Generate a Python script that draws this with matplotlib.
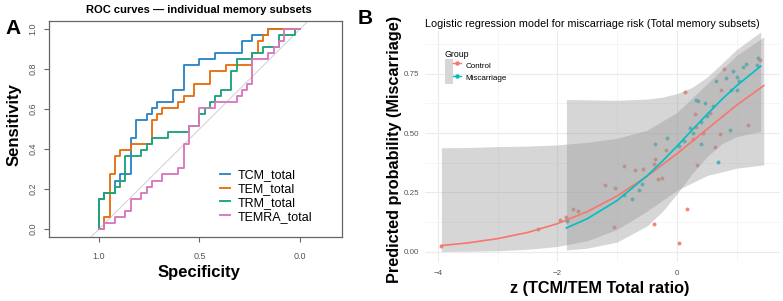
import matplotlib
matplotlib.use("Agg")
import matplotlib.pyplot as plt
import numpy as np
from matplotlib.patches import Patch
from matplotlib.lines import Line2D
from matplotlib.legend_handler import HandlerTuple

plt.rcParams['font.family'] = ['Liberation Sans', 'DejaVu Sans']

# ---------------- Panel A data: ROC vertices as counts ----------------
N_CTRL = 38   # specificity denominator
N_CASE = 33   # sensitivity denominator

tcm_k = [38, 38, 37, 37, 35, 35, 34, 34, 32, 32, 31, 31, 29, 29, 28, 28, 27, 27, 24, 24, 22, 22, 19, 19, 16, 16, 11, 11, 9, 9, 6, 6, 0]
tcm_j = [0, 5, 5, 6, 6, 8, 8, 9, 9, 15, 15, 18, 18, 19, 19, 20, 20, 21, 21, 23, 23, 27, 27, 28, 28, 29, 29, 31, 31, 32, 32, 33, 33]

tem_k = [38, 37, 37, 36, 36, 35, 35, 34, 34, 32, 32, 28, 28, 27, 27, 26, 26, 23, 23, 22, 22, 20, 20, 17, 17, 14, 14, 9, 9, 8, 8, 7, 7, 6, 6, 0]
tem_j = [0, 0, 2, 2, 9, 9, 12, 12, 13, 13, 14, 14, 18, 18, 19, 19, 20, 20, 21, 21, 22, 22, 24, 24, 26, 26, 27, 27, 29, 29, 31, 31, 32, 32, 33, 33]

trm_k = [38, 38, 37, 37, 35, 35, 34, 34, 33, 33, 30, 30, 29, 29, 28, 28, 25, 25, 21, 21, 19, 19, 18, 18, 17, 17, 16, 16, 15, 15, 13, 13, 12, 12, 9, 9, 7, 7, 4, 4, 1, 1, 0]
trm_j = [0, 5, 5, 6, 6, 7, 7, 8, 8, 12, 12, 13, 13, 14, 14, 15, 15, 16, 16, 17, 17, 19, 19, 20, 20, 21, 21, 22, 22, 23, 23, 26, 26, 28, 28, 29, 29, 30, 30, 32, 32, 33, 33]

temra_k = [38, 37, 37, 35, 35, 33, 33, 32, 32, 30, 30, 29, 29, 28, 28, 26, 26, 23, 23, 22, 22, 21, 21, 19, 19, 16, 16, 12, 12, 11, 11, 10, 10, 9, 9, 6, 6, 5, 5, 4, 4, 3, 3, 0]
temra_j = [0, 0, 1, 1, 2, 2, 3, 3, 5, 5, 6, 6, 7, 7, 8, 8, 9, 9, 10, 10, 14, 14, 17, 17, 20, 20, 21, 21, 22, 22, 23, 23, 24, 24, 28, 28, 29, 29, 30, 30, 31, 31, 33, 33]

roc_names = ["TCM_total", "TEM_total", "TRM_total", "TEMRA_total"]
roc_colors = ["#2F86C6", "#E5700F", "#1FA37C", "#D878BC"]
roc_ticks_x = [1.0, 0.5, 0.0]
roc_ticks_y = [0.0, 0.2, 0.4, 0.6, 0.8, 1.0]

# ---------------- Panel B data ----------------
ctrl_x = [-3.95, -2.33, -1.96, -1.86, -1.74, -1.65, -1.20, -1.04, -1.05, -0.88, -0.70, -0.57,
          -0.38, -0.36, -0.31, -0.25, -0.38, 0.04, 0.16, 0.33, -0.19, 0.13, 0.30, 0.26, 0.32,
          0.43, 0.55, 0.64, 0.72, 0.73, 0.79, 1.19, 1.39]
ctrl_y = [0.022, 0.097, 0.134, 0.148, 0.180, 0.170, 0.280, 0.270, 0.106, 0.360, 0.345, 0.350,
          0.370, 0.390, 0.305, 0.310, 0.116, 0.036, 0.180, 0.365, 0.430, 0.674, 0.580, 0.473, 0.526,
          0.500, 0.583, 0.443, 0.496, 0.683, 0.770, 0.536, 0.807]
case_x = [-1.84, -0.88, -0.76, -0.63, -0.59, 0.68, -0.36, -0.16, 0.03, 0.11, 0.27, 0.32, 0.35,
          0.40, 0.40, 0.46, 0.61, 0.66, 0.82, 0.89, 0.91, 0.94, 1.00, 1.01, 1.04, 1.11, 1.15,
          1.33, 1.35, 0.50, 0.22]
case_y = [0.130, 0.240, 0.220, 0.260, 0.285, 0.377, 0.452, 0.480, 0.447, 0.468, 0.500, 0.640, 0.635,
          0.454, 0.547, 0.627, 0.613, 0.718, 0.734, 0.513, 0.680, 0.760, 0.737, 0.683, 0.718, 0.778, 0.793,
          0.786, 0.816, 0.570, 0.520]

ctrl_grid = [-3.94, -3.5, -3.0, -2.5, -2.0, -1.5, -1.0, -0.5, 0.0, 0.5, 1.0, 1.45]
ctrl_fit = [0.026, 0.037, 0.055, 0.081, 0.118, 0.169, 0.235, 0.318, 0.413, 0.516, 0.618, 0.700]
ctrl_lo = [0.001, 0.002, 0.004, 0.010, 0.022, 0.046, 0.094, 0.171, 0.259, 0.321, 0.352, 0.366]
ctrl_hi = [0.438, 0.439, 0.443, 0.445, 0.450, 0.461, 0.478, 0.512, 0.587, 0.707, 0.828, 0.905]

case_grid = [-1.85, -1.5, -1.0, -0.5, -0.25, 0.0, 0.25, 0.5, 0.75, 1.0, 1.4]
case_fit = [0.100, 0.139, 0.216, 0.320, 0.380, 0.445, 0.512, 0.578, 0.642, 0.700, 0.782]
case_lo = [0.007, 0.015, 0.041, 0.109, 0.168, 0.244, 0.328, 0.400, 0.455, 0.485, 0.507]
case_hi = [0.641, 0.640, 0.638, 0.643, 0.651, 0.666, 0.692, 0.735, 0.793, 0.853, 0.926]

grp_names = ["Control", "Miscarriage"]
grp_colors = ["#F8766D", "#00BFC4"]

W, H = 783, 301
fig = plt.figure(figsize=(W / 100, H / 100), dpi=100)


def fx(px):
    return px / W


def fy(py):
    return 1 - py / H


# ================= Panel A =================
axA = fig.add_axes([fx(49), fy(237), (342 - 49) / W, (237 - 21) / H])
axA.set_xlim(1.2488, -0.209)
axA.set_ylim(-0.04, 1.04)
axA.axline((1, 0), (0, 1), color='#CFCFCF', lw=0.7, zorder=1)
for name, k, j, col in zip(roc_names, [tcm_k, tem_k, trm_k, temra_k],
                           [tcm_j, tem_j, trm_j, temra_j], roc_colors):
    axA.plot(np.array(k) / N_CTRL, np.array(j) / N_CASE, color=col, lw=1.35,
             label=name, zorder=3)
axA.set_xticks(roc_ticks_x)
axA.set_xticklabels([f"{v:.1f}" for v in roc_ticks_x])
axA.set_yticks(roc_ticks_y)
axA.set_yticklabels([f"{v:.1f}" for v in roc_ticks_y])
for s in axA.spines.values():
    s.set_color('#666666')
    s.set_linewidth(0.9)
axA.tick_params(direction='out', length=3.5, width=0.8, color='#666666',
                labelsize=6.5, labelcolor='#555555')
axA.tick_params(axis='x', pad=7)
axA.tick_params(axis='y', labelrotation=90, pad=5)
for lbl in axA.get_yticklabels():
    lbl.set_va('center')

legA = axA.legend(loc='upper left', bbox_to_anchor=(fx(220), fy(169)),
                  bbox_transform=fig.transFigure, frameon=False, fontsize=9,
                  handlelength=0.8, handletextpad=0.6, labelspacing=0.15,
                  borderaxespad=0, borderpad=0)

fig.text(fx(199), fy(10), "ROC curves \u2014 individual memory subsets", ha='center',
         va='center', fontsize=8, fontweight='bold')
fig.text(fx(14), fy(125), "Sensitivity", rotation=90, ha='center', va='center',
         fontsize=12, fontweight='bold')
fig.text(fx(199), fy(272), "Specificity", ha='center', va='center',
         fontsize=12, fontweight='bold')
fig.text(fx(13), fy(28), "A", ha='center', va='center', fontsize=15, fontweight='bold')

# ================= Panel B =================
axB = fig.add_axes([fx(425), fy(262), (780 - 425) / W, (262 - 31) / H])
axB.set_xlim(-4.214, 1.722)
axB.set_ylim(-0.0434, 0.930)
axB.set_xticks([-4, -2, 0])
axB.set_xticklabels(["\u22124", "\u22122", "0"])
axB.set_xticks([-3, -1, 1], minor=True)
axB.set_yticks([0, 0.25, 0.5, 0.75])
axB.set_yticklabels(["0.00", "0.25", "0.50", "0.75"])
axB.set_yticks([0.125, 0.375, 0.625, 0.875], minor=True)
axB.grid(which='major', color='#EBEBEB', lw=0.8, zorder=0)
axB.grid(which='minor', color='#F2F2F2', lw=0.5, zorder=0)
axB.set_axisbelow(True)
for s in axB.spines.values():
    s.set_visible(False)
axB.tick_params(which='both', length=0, labelsize=5.8, labelcolor='#555555')
axB.tick_params(axis='x', pad=6)
axB.tick_params(axis='y', pad=4)

axB.scatter(ctrl_x, ctrl_y, s=8, color=grp_colors[0], alpha=0.9, lw=0, zorder=2)
axB.scatter(case_x, case_y, s=8, color=grp_colors[1], alpha=0.9, lw=0, zorder=2)
axB.fill_between(ctrl_grid, ctrl_lo, ctrl_hi, color='#999999', alpha=0.4, lw=0, zorder=3)
axB.fill_between(case_grid, case_lo, case_hi, color='#999999', alpha=0.4, lw=0, zorder=3)
axB.plot(ctrl_grid, ctrl_fit, color=grp_colors[0], lw=1.2, zorder=4)
axB.plot(case_grid, case_fit, color=grp_colors[1], lw=1.2, zorder=4)

handles = []
for c in grp_colors:
    handles.append((Patch(facecolor='#D6D6D6', edgecolor='none'),
                    Line2D([], [], color=c, lw=1.0, marker='o', ms=2.2)))
legB = axB.legend(handles, grp_names, handler_map={tuple: HandlerTuple(ndivide=None, pad=0)},
                  loc='upper left', bbox_to_anchor=(fx(445), fy(50)),
                  bbox_transform=fig.transFigure, frameon=False, fontsize=5.8,
                  title="Group", title_fontsize=6.3, alignment='left',
                  handlelength=2.0, handleheight=2.0, handletextpad=0.5,
                  labelspacing=0.0, borderaxespad=0, borderpad=0)

fig.text(fx(425), fy(24), "Logistic regression model for miscarriage risk (Total memory subsets)",
         ha='left', va='center', fontsize=7.75)
fig.text(fx(395), fy(149), "Predicted probability (Miscarriage)", rotation=90,
         ha='center', va='center', fontsize=11.7, fontweight='bold')
fig.text(fx(600), fy(288), "z (TCM/TEM Total ratio)", ha='center', va='center',
         fontsize=11.7, fontweight='bold')
fig.text(fx(365), fy(18), "B", ha='center', va='center', fontsize=15, fontweight='bold')

fig.savefig("out.png", dpi=100)
